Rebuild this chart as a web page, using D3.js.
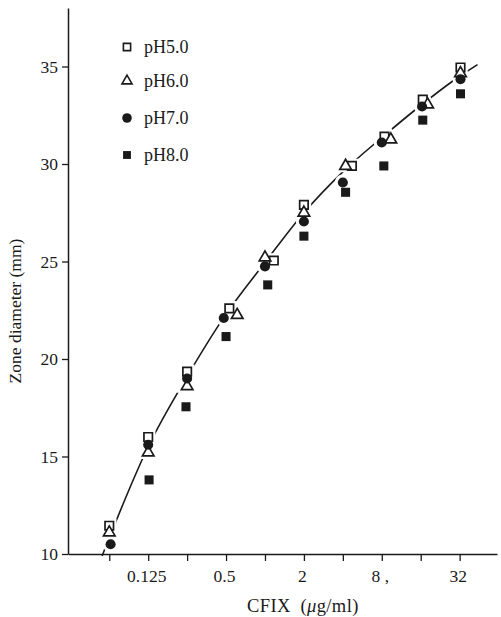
<!DOCTYPE html>
<html>
<head>
<meta charset="utf-8">
<script src="https://cdn.jsdelivr.net/npm/d3@7"></script>
<style>
  body { margin: 0; background: #fff; }
  text { font-family: "Liberation Serif", "DejaVu Serif", serif; fill: #1a1a1a; }
</style>
</head>
<body>
<svg id="vis"></svg>
<script>
(function() {
  var width = 501,
    height = 617;

  // data (dose in ug/ml, zone diameter in mm)
  var seriesNames = ["pH5.0", "pH6.0", "pH7.0", "pH8.0"];

  var ph5Dose = [0.0625, 0.125, 0.25, 0.53, 1.17, 2, 4.7, 8.4, 16.6, 32.5];
  var ph5Zone = [11.45, 16.0, 19.35, 22.6, 25.05, 27.9, 29.9, 31.4, 33.3, 34.95];

  var ph6Dose = [0.0625, 0.125, 0.25, 0.61, 1, 2, 4.2, 9.4, 18.1, 32.5];
  var ph6Zone = [11.1, 15.2, 18.6, 22.25, 25.2, 27.5, 29.9, 31.25, 33.05, 34.65];

  var ph7Dose = [0.064, 0.125, 0.25, 0.48, 1, 2, 4, 8, 16.4, 32.5];
  var ph7Zone = [10.5, 15.6, 19.0, 22.1, 24.75, 27.05, 29.05, 31.1, 32.95, 34.35];

  var ph8Dose = [0.127, 0.245, 0.5, 1.05, 2, 4.2, 8.3, 16.6, 32.5];
  var ph8Zone = [13.8, 17.55, 21.15, 23.8, 26.3, 28.55, 29.9, 32.25, 33.6];

  // fitted line
  var fitDose = [0.055, 0.125, 0.25, 0.5, 1, 2, 4, 8, 16, 32, 44];
  var fitZone = [9.9, 15.5, 19.1, 22.3, 24.95, 27.5, 29.6, 31.35, 33.0, 34.5, 35.1];

  var xTickValues = [0.0625, 0.125, 0.25, 0.5, 1, 2, 4, 8, 16, 32];
  var xTickLabels = { 0.125: "0.125", 0.5: "0.5", 2: "2", 8: "8 ,", 32: "32" };
  var yTickValues = [10, 15, 20, 25, 30, 35];

  var chart = d3.select("#vis")
    .attr("width", width)
    .attr("height", height);

  var x = d3.scaleLog().base(2)
    .domain([Math.pow(2, -5.06), Math.pow(2, 5.96)])
    .range([68, 497]);

  var y = d3.scaleLinear()
    .domain([10, 38])
    .range([554, 8]);

  var ink = "#1a1a1a";

  // axes
  var xAxis = d3.axisBottom(x)
    .tickValues(xTickValues)
    .tickSize(7)
    .tickSizeOuter(0)
    .tickFormat(function(d) { return xTickLabels[d] || ""; });

  var gx = chart.append("g")
    .attr("transform", "translate(0," + y(10) + ")")
    .call(xAxis);

  var yAxis = d3.axisLeft(y)
    .tickValues(yTickValues)
    .tickSize(6)
    .tickSizeOuter(0)
    .tickPadding(4);

  var gy = chart.append("g")
    .attr("transform", "translate(" + x.range()[0] + ",0)")
    .call(yAxis);

  [gx, gy].forEach(function(g) {
    g.select(".domain").attr("stroke", ink).attr("stroke-width", 1.5);
    g.selectAll(".tick line").attr("stroke", ink).attr("stroke-width", 1.3);
    g.selectAll(".tick text")
      .attr("fill", ink)
      .style("font-family", "'Liberation Serif', serif")
      .style("font-size", "17.5px");
  });
  gx.selectAll(".tick text").attr("dy", "1.05em").attr("dx", "-2px");

  // axis titles
  chart.append("text")
    .attr("transform", "translate(21,311) rotate(-90)")
    .attr("text-anchor", "middle")
    .style("font-size", "17.5px")
    .text("Zone diameter (mm)");

  var xt = chart.append("text")
    .attr("x", 247)
    .attr("y", 612)
    .style("font-size", "18.5px")
    .style("letter-spacing", "0.4px");
  xt.append("tspan").text("CFIX\u2002(");
  xt.append("tspan").style("font-style", "italic").text("\u03bc");
  xt.append("tspan").text("g/ml)");

  // fitted curve
  var line = d3.line()
    .x(function(d, i) { return x(fitDose[i]); })
    .y(function(d) { return y(d); })
    .curve(d3.curveMonotoneX);

  chart.append("path")
    .datum(fitZone)
    .attr("fill", "none")
    .attr("stroke", ink)
    .attr("stroke-width", 1.6)
    .attr("d", line);

  // markers
  var symbols = [
    { type: d3.symbolSquare, size: 72, fill: "#fff" },
    { type: d3.symbolTriangle, size: 58, fill: "#fff" },
    { type: d3.symbolCircle, size: 80, fill: ink },
    { type: d3.symbolSquare, size: 82, fill: ink }
  ];

  var series = [
    { dose: ph5Dose, zone: ph5Zone },
    { dose: ph6Dose, zone: ph6Zone },
    { dose: ph7Dose, zone: ph7Zone },
    { dose: ph8Dose, zone: ph8Zone }
  ];

  // white halo so the line breaks around the marks
  series.forEach(function(s, k) {
    chart.append("g").selectAll("path")
      .data(s.zone)
      .enter()
      .append("path")
      .attr("d", d3.symbol().type(symbols[k].type).size(symbols[k].size))
      .attr("transform", function(d, i) {
        return "translate(" + x(s.dose[i]) + "," + y(d) + ")";
      })
      .attr("fill", "#fff")
      .attr("stroke", "#fff")
      .attr("stroke-width", 6);
  });

  series.forEach(function(s, k) {
    chart.append("g").selectAll("path")
      .data(s.zone)
      .enter()
      .append("path")
      .attr("d", d3.symbol().type(symbols[k].type).size(symbols[k].size))
      .attr("transform", function(d, i) {
        return "translate(" + x(s.dose[i]) + "," + y(d) + ")";
      })
      .attr("fill", symbols[k].fill)
      .attr("stroke", ink)
      .attr("stroke-width", k < 2 ? 1.7 : 0);
  });

  // legend
  var legendY = [47, 81, 118, 155];
  var legendSize = [52, 44, 72, 62];

  var legend = chart.append("g").selectAll("g")
    .data(seriesNames)
    .enter()
    .append("g")
    .attr("transform", function(d, i) { return "translate(127," + legendY[i] + ")"; });

  legend.append("path")
    .attr("d", function(d, i) { return d3.symbol().type(symbols[i].type).size(legendSize[i])(); })
    .attr("fill", function(d, i) { return symbols[i].fill; })
    .attr("stroke", ink)
    .attr("stroke-width", function(d, i) { return i < 2 ? 1.6 : 0; });

  legend.append("text")
    .attr("x", 17)
    .attr("y", 6)
    .style("font-size", "18px")
    .text(function(d) { return d; });

}());
</script>
</body>
</html>
